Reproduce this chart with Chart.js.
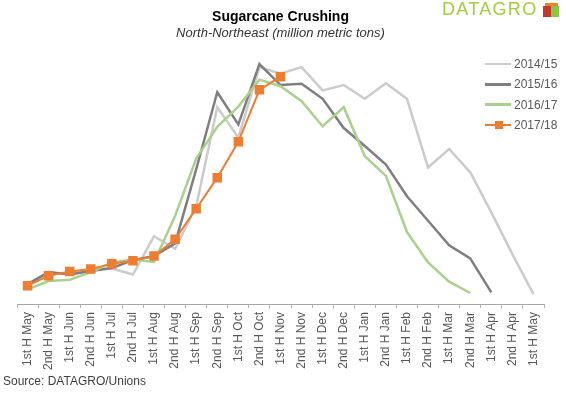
<!DOCTYPE html>
<html lang="en">
<head>
  <meta charset="UTF-8">
  <title>Sugarcane Crushing</title>
  <style>
    body { margin: 0; background: white; font-family: "Liberation Sans", Arial, sans-serif; }
    #wrap { position: relative; width: 566px; height: 393px; }
    #logo { position: absolute; left: 442px; top: -1px; font-size: 18px; color: #a3cc45; letter-spacing: 1.3px; }
    #cube { position: absolute; left: 543px; top: 3px; width: 0; height: 0; }
    #cube .l { position: absolute; left: 0; top: 3px; width: 8px; height: 11px; background: #c0392b; }
    #cube .r { position: absolute; left: 8px; top: 3px; width: 8px; height: 11px; background: #8dc63f; }
    #cube .t { position: absolute; left: 2px; top: 0; width: 13px; height: 4px; background: #f07f2a; }
    #legend { position: absolute; left: 485px; top: 54px; font-size: 12px; color: #595959; }
    #legend .row { height: 20.3px; display: flex; align-items: center; }
    #legend .sw { position: relative; width: 26px; height: 2.5px; margin-right: 3px; }
    #legend .mk { position: absolute; left: 9.5px; top: -2.75px; width: 8px; height: 8px; background: #ed7d31; }
    #source { position: absolute; left: 3px; top: 374px; font-size: 12px; color: #404040; }
  </style>
  <script src="https://cdn.jsdelivr.net/npm/chart.js"></script>
</head>
<body>
  <div id="wrap">
    <canvas id="chart"></canvas>
    <div id="logo">DATAGRO</div>
    <div id="cube"><div class="t"></div><div class="l"></div><div class="r"></div></div>
    <div id="legend"></div>
    <div id="source">Source: DATAGRO/Unions</div>
  </div>

  <script>
    const labels = ["1st H May", "2nd H May", "1st H Jun", "2nd H Jun", "1st H Jul", "2nd H Jul",
      "1st H Aug", "2nd H Aug", "1st H Sep", "2nd H Sep", "1st H Oct", "2nd H Oct",
      "1st H Nov", "2nd H Nov", "1st H Dec", "2nd H Dec", "1st H Jan", "2nd H Jan",
      "1st H Feb", "2nd H Feb", "1st H Mar", "2nd H Mar", "1st H Apr", "2nd H Apr", "1st H May"];

    // million metric tons
    const s1415 = [0.35, 0.52, 0.53, 0.58, 0.61, 0.51, 1.15, 0.94, 1.65, 3.31, 2.80, 3.98, 3.87,
      3.98, 3.59, 3.68, 3.45, 3.71, 3.45, 2.30, 2.61, 2.22, 1.55, 0.85, 0.18];
    const s1516 = [0.35, 0.55, 0.51, 0.57, 0.62, 0.75, 0.82, 1.03, 2.27, 3.56, 3.02, 4.03, 3.68,
      3.70, 3.45, 2.96, 2.66, 2.35, 1.82, 1.41, 1.00, 0.78, 0.21];
    const s1617 = [0.26, 0.40, 0.42, 0.55, 0.71, 0.76, 0.72, 1.49, 2.45, 2.98, 3.32, 3.77, 3.66,
      3.41, 2.99, 3.31, 2.49, 2.16, 1.22, 0.71, 0.39, 0.20];
    const s1718 = [0.32, 0.49, 0.56, 0.60, 0.69, 0.74, 0.82, 1.10, 1.61, 2.13, 2.73, 3.60, 3.82];

    const seasons = ["2014/15", "2015/16", "2016/17", "2017/18"];
    const colors = ["#cbcbcb", "#7f7f7f", "#a9d18e", "#ed7d31"];

    const lineSet = (i, data) => ({
      label: seasons[i],
      data: data,
      borderColor: colors[i],
      backgroundColor: colors[i],
      borderWidth: i == 3 ? 2 : 2.5,
      pointRadius: i == 3 ? 5.3 : 0,
      pointStyle: "rect",
      tension: 0,
      fill: false,
      order: 4 - i
    });

    new Chart(document.getElementById("chart"), {
      type: "line",
      data: {
        labels: labels,
        datasets: [lineSet(0, s1415), lineSet(1, s1516), lineSet(2, s1617), lineSet(3, s1718)]
      },
      options: {
        responsive: true,
        maintainAspectRatio: false,
        animation: false,
        layout: { padding: { left: 17, right: 22, top: 0, bottom: 19 } },
        plugins: {
          legend: { display: false },
          tooltip: { enabled: false },
          title: {
            display: true,
            text: "Sugarcane Crushing",
            color: "#000",
            font: { family: "Liberation Sans", size: 14, weight: "bold" },
            padding: { top: 8.6, bottom: 0 }
          },
          subtitle: {
            display: true,
            text: "North-Northeast (million metric tons)",
            color: "#333",
            font: { family: "Liberation Sans", size: 13, style: "italic" },
            padding: { top: 0, bottom: 1 }
          }
        },
        scales: {
          x: {
            offset: true,
            grid: { offset: true, drawOnChartArea: false, drawTicks: true, tickLength: 3, tickColor: "#b0b0b0" },
            border: { display: true, color: "#a6a6a6", width: 1 },
            ticks: {
              autoSkip: false, minRotation: 90, maxRotation: 90, padding: 4,
              color: "#595959", font: { family: "Liberation Sans", size: 12 }
            }
          },
          y: { display: false, min: 0, max: 4.4 }
        }
      }
    });

    // legend
    const legend = document.getElementById("legend");
    seasons.forEach((s, i) => {
      const row = document.createElement("div");
      row.className = "row";
      const sw = document.createElement("span");
      sw.className = "sw";
      sw.style.background = colors[i];
      if (i == 3) {
        const mk = document.createElement("span");
        mk.className = "mk";
        sw.appendChild(mk);
      }
      row.appendChild(sw);
      row.appendChild(document.createTextNode(s));
      legend.appendChild(row);
    });
  </script>
</body>
</html>
